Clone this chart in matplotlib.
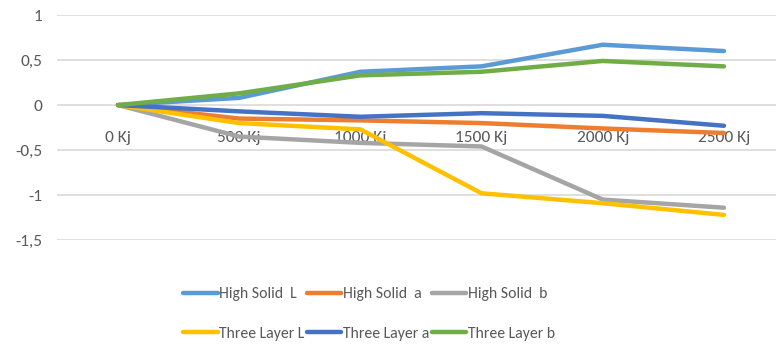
import matplotlib
matplotlib.use('Agg')
import matplotlib.pyplot as plt

# energy steps and colour coordinate changes per coating
steps = ['0 Kj', '500 Kj', '1000 Kj', '1500 Kj', '2000 Kj', '2500 Kj']
high_solid_L = [0, 0.08, 0.37, 0.43, 0.67, 0.60]
high_solid_a = [0, -0.15, -0.17, -0.20, -0.26, -0.31]
high_solid_b = [0, -0.35, -0.42, -0.46, -1.05, -1.14]
three_layer_L = [0, -0.20, -0.27, -0.98, -1.09, -1.22]
three_layer_a = [0, -0.07, -0.13, -0.09, -0.12, -0.23]
three_layer_b = [0, 0.13, 0.33, 0.37, 0.49, 0.43]

y_ticks = [1, 0.5, 0, -0.5, -1, -1.5]
y_labels = ['1', '0,5', '0', '-0,5', '-1', '-1,5']

series = [
    ('High Solid  L', high_solid_L, '#5B9BD5'),
    ('High Solid  a', high_solid_a, '#ED7D31'),
    ('High Solid  b', high_solid_b, '#A5A5A5'),
    ('Three Layer L', three_layer_L, '#FFC000'),
    ('Three Layer a', three_layer_a, '#4472C4'),
    ('Three Layer b', three_layer_b, '#70AD47'),
]

plt.rcParams['font.family'] = ['Carlito', 'DejaVu Sans']
text_col = '#595959'

fig = plt.figure(figsize=(7.76, 3.5), dpi=100)
ax = fig.add_axes([0.074, 0.314, 0.937, 0.643])

x = list(range(len(steps)))
lines = []
for name, vals, col in series:
    ln, = ax.plot(x, vals, color=col, lw=3.2, label=name,
                  solid_capstyle='round', solid_joinstyle='round')
    lines.append(ln)

ax.set_xlim(-0.5, 5.5)
ax.set_ylim(-1.5, 1)
ax.set_yticks(y_ticks)
ax.set_yticklabels(y_labels)
ax.set_xticks(x)
ax.set_xticklabels(steps)
ax.yaxis.grid(True, color='#D9D9D9', lw=1.2)
ax.set_axisbelow(True)
for s in ax.spines.values():
    s.set_visible(False)
ax.spines['bottom'].set_position(('data', 0))
ax.tick_params(axis='x', length=0, pad=19, labelsize=12.5, labelcolor=text_col)
ax.tick_params(axis='y', length=0, pad=11, labelsize=12.5, labelcolor=text_col)

# legend filled row by row: 3 entries per row
order = [0, 3, 1, 4, 2, 5]
fig.legend([lines[i] for i in order], [series[i][0] for i in order],
           loc='upper left', bbox_to_anchor=(0.236, 0.18), ncol=3, frameon=False,
           fontsize=11.3, labelcolor=text_col, handlelength=2.2, handletextpad=0.1,
           columnspacing=0.15, labelspacing=1.65, borderaxespad=0, borderpad=0)

fig.savefig('out.png', dpi=100)
